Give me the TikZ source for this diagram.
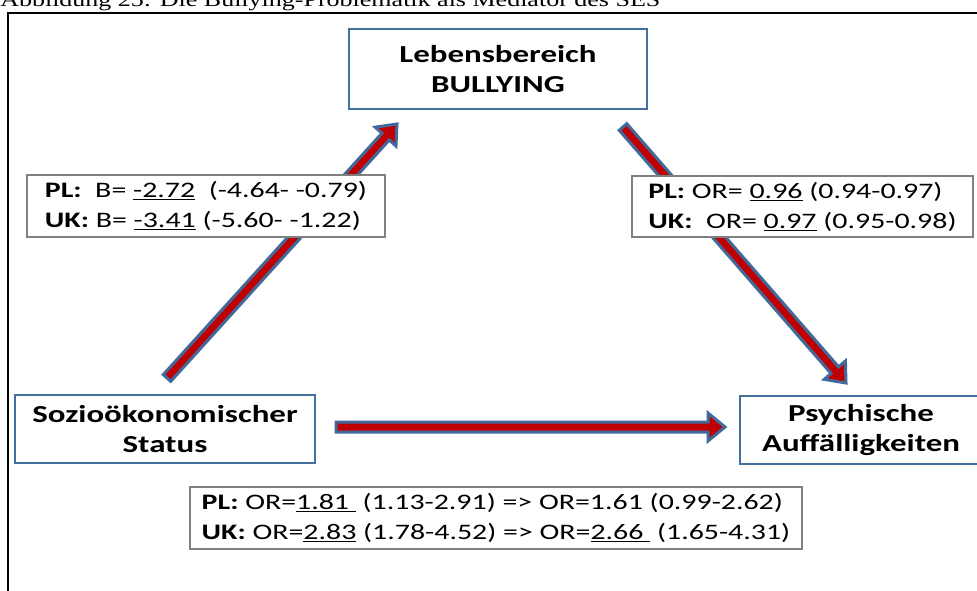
\documentclass[tikz,border=0pt]{standalone}
\usepackage{fontspec}
\setmainfont[FakeStretch=1.3]{Liberation Serif}
\newfontfamily\boxfont[FakeStretch=1.35]{Carlito}
\usetikzlibrary{calc}

% fat arrow from #1 to #2
\newcommand{\blockarrow}[2]{%
  \coordinate (#1b) at ($(#2)!12.75pt!(#1)$);
  \draw[bigarrow] ($(#1)!3.75pt!90:(#2)$) -- ($(#1b)!3.75pt!90:(#2)$)
    -- ($(#1b)!10.5pt!90:(#2)$) -- (#2) -- ($(#1b)!10.5pt!-90:(#2)$)
    -- ($(#1b)!3.75pt!-90:(#2)$) -- ($(#1)!3.75pt!-90:(#2)$) -- cycle;}

\begin{document}
\begin{tikzpicture}[x=0.75pt,y=0.75pt,
  mainbox/.style={draw=boxblue,line width=1.5pt,fill=white,align=center,inner sep=0pt,
    font=\boxfont\bfseries\fontsize{18.3}{22.5}\selectfont},
  labelbox/.style={draw=labelgray,line width=1.5pt,fill=white,align=left,inner sep=0pt,
    font=\boxfont\fontsize{16.6}{22.5}\selectfont},
  bigarrow/.style={draw=arrowblue,line width=2.25pt,fill=arrowred}]
\definecolor{boxblue}{RGB}{65,113,156}
\definecolor{arrowblue}{RGB}{65,105,155}
\definecolor{arrowred}{RGB}{192,0,0}
\definecolor{labelgray}{RGB}{128,128,128}
\useasboundingbox (0,0) rectangle (977,590);
\node[anchor=base west,inner sep=0pt,font=\fontsize{15}{18}\selectfont] (cap) at (0,583.5)
  {Abbildung 25: Die Bullying-Problematik als Mediator des SES};
\draw[line width=1.5pt] (8,-10) -- (8,577) -- (990,577);
\coordinate[] (T1) at (167,212);
\coordinate[] (P1) at (397,466);
\coordinate[] (T2) at (623,463);
\coordinate[] (P2) at (846,207);
\coordinate[] (T3) at (336,163);
\coordinate[] (P3) at (725,163);
\blockarrow{T1}{P1}
\blockarrow{T2}{P2}
\blockarrow{T3}{P3}
\node[mainbox,minimum width=223.5pt,minimum height=60pt] (bul) at (498,521) {Lebensbereich\\BULLYING};
\node[mainbox,minimum width=225pt,minimum height=51pt] (ses) at (165,161) {Sozioökonomischer\\Status};
\node[mainbox,minimum width=181.5pt,minimum height=51pt] (psy) at (861,160) {Psychische\\Auffälligkeiten};
\node[labelbox,minimum width=268.5pt,minimum height=46.5pt] (left) at (206,384)
  {\textbf{PL:}\ \ B= \underline{-2.72}\ \ (-4.64- -0.79)\\
   \textbf{UK:} B= \underline{-3.41} (-5.60- -1.22)};
\node[labelbox,minimum width=255.75pt,minimum height=45.75pt] (right) at (802.5,383.5)
  {\textbf{PL:} OR= \underline{0.96} (0.94-0.97)\\
   \textbf{UK:}\ \ OR= \underline{0.97} (0.95-0.98)};
\node[labelbox,minimum width=459pt,minimum height=46.5pt] (bottom) at (496,72)
  {\textbf{PL:} OR=\underline{1.81\ }\ (1.13-2.91) => OR=1.61 (0.99-2.62)\\
   \textbf{UK:} OR=\underline{2.83} (1.78-4.52) => OR=\underline{2.66\ }\ (1.65-4.31)};
\end{tikzpicture}
\end{document}
